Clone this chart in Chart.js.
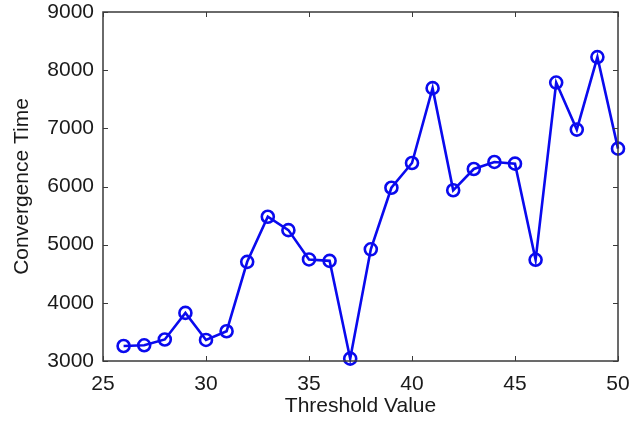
<!DOCTYPE html>
<html>
<head>
<meta charset="utf-8">
<script src="https://cdn.jsdelivr.net/npm/chart.js@4.4.1/dist/chart.umd.min.js"></script>
<style>
    html, body { margin: 0; padding: 0; background: #fff; }
    #wrap { width: 644px; height: 421px; }
</style>
</head>
<body>
<div id="wrap"><canvas id="convChart" width="644" height="421"></canvas></div>
<script>
// values
const thresholds = [26, 27, 28, 29, 30, 31, 32, 33, 34, 35, 36, 37, 38, 39, 40, 41, 42, 43, 44, 45, 46, 47, 48, 49, 50];
const convergenceTimes = [3258, 3270, 3370, 3827, 3362, 3511, 4705, 5480, 5250, 4746, 4722, 3040, 4920, 5979, 6404, 7691, 5935, 6301, 6422, 6393, 4740, 7787, 6978, 8225, 6651];
const xTicks = [25, 30, 35, 40, 45, 50];
const yTicks = [3000, 4000, 5000, 6000, 7000, 8000, 9000];

const axisColor = '#3a3a3a';
const lineBlue = '#0a0aee';
const textColor = '#1a1a1a';
const fontFam = '"Liberation Sans", Arial, Helvetica, sans-serif';

// MATLAB-like box with inward tick marks on all four sides
const boxTicks = {
    id: 'boxTicks',
    afterDatasetsDraw(chart) {
        const { ctx, chartArea: a, scales } = chart;
        const len = 5;
        ctx.save();
        ctx.strokeStyle = axisColor;
        ctx.lineWidth = 1.5;
        ctx.strokeRect(a.left, a.top, a.right - a.left, a.bottom - a.top);
        ctx.lineWidth = 1;
        ctx.beginPath();
        xTicks.forEach(v => {
            const px = Math.round(scales.x.getPixelForValue(v)) + 0.5;
            ctx.moveTo(px, a.bottom); ctx.lineTo(px, a.bottom - len);
            ctx.moveTo(px, a.top); ctx.lineTo(px, a.top + len);
        });
        yTicks.forEach(v => {
            const py = Math.round(scales.y.getPixelForValue(v)) + 0.5;
            ctx.moveTo(a.left, py); ctx.lineTo(a.left + len, py);
            ctx.moveTo(a.right, py); ctx.lineTo(a.right - len, py);
        });
        ctx.stroke();
        ctx.restore();
    }
};

const ctx = document.getElementById('convChart').getContext('2d');
new Chart(ctx, {
    type: 'line',
    data: {
        datasets: [{
            label: 'Convergence Time',
            data: thresholds.map((t, i) => ({ x: t, y: convergenceTimes[i] })),
            borderColor: lineBlue,
            borderWidth: 2.6,
            pointStyle: 'circle',
            pointRadius: 6,
            pointBorderWidth: 2.6,
            pointBorderColor: lineBlue,
            pointBackgroundColor: 'rgba(0,0,0,0)',
            tension: 0,
            clip: false
        }]
    },
    options: {
        responsive: false,
        animation: false,
        layout: { padding: { top: 12, right: 26, left: 0, bottom: 0 } },
        plugins: {
            legend: { display: false },
            tooltip: { enabled: false }
        },
        scales: {
            x: {
                type: 'linear',
                min: 25,
                max: 50,
                afterBuildTicks: s => { s.ticks = xTicks.map(v => ({ value: v })); },
                afterFit: s => { s.height = 60; s.paddingLeft = 0; s.paddingRight = 0; },
                grid: { display: false, drawTicks: false },
                border: { display: false },
                ticks: { color: textColor, font: { family: fontFam, size: 21 }, padding: 11, maxRotation: 0 },
                title: { display: true, text: 'Threshold Value', color: textColor, font: { family: fontFam, size: 21 }, padding: { top: 0, bottom: 2 } }
            },
            y: {
                min: 3000,
                max: 9000,
                afterBuildTicks: s => { s.ticks = yTicks.map(v => ({ value: v })); },
                afterFit: s => { s.width = 103; s.paddingTop = 0; s.paddingBottom = 0; },
                grid: { display: false, drawTicks: false },
                border: { display: false },
                ticks: {
                    color: textColor,
                    font: { family: fontFam, size: 21 },
                    padding: 9,
                    callback: v => String(v)
                },
                title: { display: true, text: 'Convergence Time', color: textColor, font: { family: fontFam, size: 21 }, padding: { top: 10, bottom: 0 } }
            }
        }
    },
    plugins: [boxTicks]
});
</script>
</body>
</html>
